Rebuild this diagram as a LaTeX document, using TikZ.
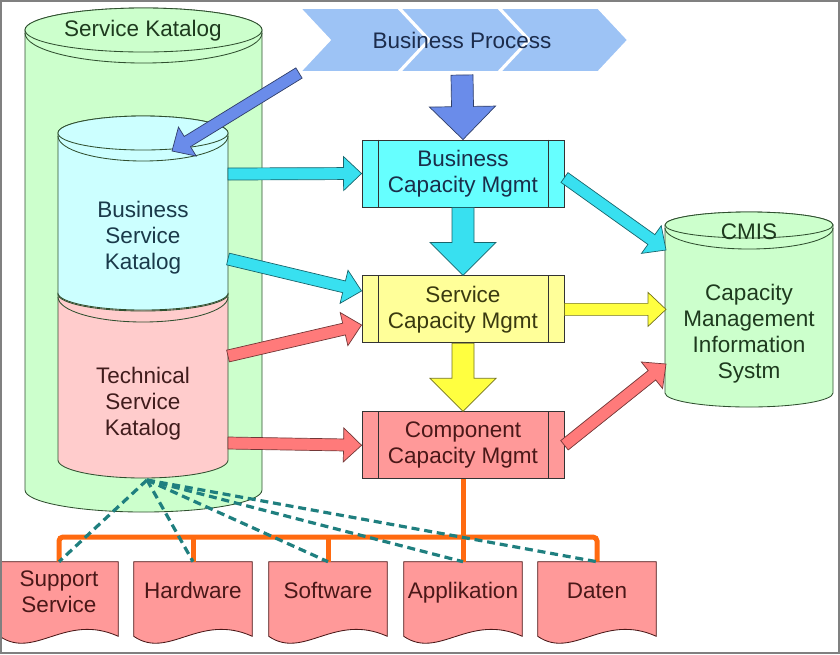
\documentclass[tikz,border=0pt]{standalone}
\usepackage{fontspec}
\setmainfont{Liberation Sans}
\usetikzlibrary{calc,positioning,backgrounds}

\definecolor{skfill}{HTML}{CCFFCC}
\definecolor{skline}{HTML}{2F4F2F}
\definecolor{sktext}{HTML}{1E3A1E}
\definecolor{bskfill}{HTML}{CCFFFF}
\definecolor{bsktext}{HTML}{1A3A4A}
\definecolor{tskfill}{HTML}{FFCCCC}
\definecolor{tsktext}{HTML}{401C1C}
\definecolor{chevfill}{HTML}{9DC3F5}
\definecolor{chevtext}{HTML}{1C2C4C}
\definecolor{bcmfill}{HTML}{66FFFF}
\definecolor{scmfill}{HTML}{FFFF99}
\definecolor{ccmfill}{HTML}{FF9999}
\definecolor{bcmtext}{HTML}{1A2E4A}
\definecolor{scmtext}{HTML}{3A3A10}
\definecolor{ccmtext}{HTML}{4A1818}
\definecolor{arrblue}{HTML}{6A8CEA}
\definecolor{arrcyan}{HTML}{38E0F0}
\definecolor{arryellow}{HTML}{FFFF40}
\definecolor{arrred}{HTML}{FF7A7A}
\definecolor{busorange}{HTML}{FF6A10}
\definecolor{linkteal}{HTML}{1F7F7F}

% sizes of the fat arrows
\def\fsw{1.5mm}\def\fhw{4.25mm}\def\fhl{4.5mm}
\tikzset{
  thinarrow/.code={\def\fsw{1.5mm}\def\fhw{4.25mm}\def\fhl{4.5mm}},
  bigarrow/.code={\def\fsw{2.75mm}\def\fhw{8.25mm}\def\fhl{8.25mm}},
}
\newcommand{\fatarrow}[4]{% size, colour, from, to
  \begin{scope}[#1]
    \coordinate (fa-h) at ($(#4)!\fhl!(#3)$);
    \filldraw[fill=#2, draw=#2!45!black, line width=0.5pt]
      ($(#3)!\fsw!90:(#4)$) -- ($(fa-h)!\fsw!90:(#4)$) -- ($(fa-h)!\fhw!90:(#4)$)
      -- (#4) -- ($(fa-h)!\fhw!-90:(#4)$) -- ($(fa-h)!\fsw!-90:(#4)$)
      -- ($(#3)!\fsw!-90:(#4)$) -- cycle;
  \end{scope}}
% x0, x1, y top, y bottom, top radius, bottom radius, style
\newcommand{\cylinder}[7]{%
  \filldraw[#7] (#1,-#3) -- (#1,-#4)
    arc[start angle=180, end angle=360, x radius={(#2-#1)/2}, y radius=#6]
    -- (#2,-#3) arc[start angle=0, end angle=180, x radius={(#2-#1)/2}, y radius=#5] -- cycle;
  \filldraw[#7] ({(#1+#2)/2},-#3) ellipse[x radius={(#2-#1)/2}, y radius=#5];
  \draw[#7, fill=none] (#1,-#3-3) arc[start angle=180, end angle=360, x radius={(#2-#1)/2}, y radius=#5+8];
}

\begin{document}
\begin{tikzpicture}[x=0.025cm, y=0.025cm,
  every node/.style={font=\fontsize{16}{18.5}\selectfont, align=center},
  cyl/.style={fill=#1, draw=skline, line width=0.6pt},
  chevron/.style={fill=chevfill, draw=white, line width=1.2pt},
  procbox/.style={draw=black!80, line width=0.6pt, minimum width=50.5mm, minimum height=16.75mm, inner sep=0pt},
  boxline/.style={draw=black!80, line width=0.6pt},
  doc/.style={minimum width=29.5mm, minimum height=15mm, inner sep=0pt, text=ccmtext},
  docone/.style={doc, text height=1.16em, text depth=0.21em},
  docshape/.style={fill=ccmfill, draw=ccmtext, line width=0.6pt},
  bus/.style={draw=busorange, line width=1.25mm},
  link/.style={draw=linkteal, line width=0.8mm, dash pattern=on 2mm off 1.2mm}]
\useasboundingbox (0,0) rectangle (840,-654);

% catalogues
\cylinder{25}{262}{30}{490}{22}{22}{cyl=skfill}
\cylinder{58}{228}{294}{460}{17}{18}{cyl=tskfill}
\cylinder{58}{228}{133}{293}{17}{17}{cyl=bskfill}
\cylinder{665}{833}{225}{393}{13}{14}{cyl=skfill}
\node (skl) [text=sktext] at (143,-31) {Service Katalog};
\node (bskl) [text=bsktext] at (143,-238) {Business\\Service\\Katalog};
\node (tskl) [text=tsktext] at (143,-404) {Technical\\Service\\Katalog};
\node (cmisl) [text=sktext] at (749,-232) {CMIS};
\node (cmist) [text=sktext] at (749,-334) {Capacity\\Management\\Information\\Systm};

% business process
\foreach \l in {300,400,500}
  \filldraw[chevron] (\l,-8) -- (\l+98,-8) -- (\l+128,-40) -- (\l+98,-72) -- (\l,-72) -- (\l+30,-40) -- cycle;
\node (bp) [minimum height=16mm, text=chevtext] at (462,-40) {Business Process};

% capacity management
\node (bcm) [procbox, fill=bcmfill, text=bcmtext] at (463,-173.5) {Business\\Capacity Mgmt};
\node (scm) [procbox, fill=scmfill, text=scmtext, below=17mm of bcm] {Service\\Capacity Mgmt};
\node (ccm) [procbox, fill=ccmfill, text=ccmtext, below=17mm of scm] {Component\\Capacity Mgmt};
\foreach \b in {bcm,scm,ccm}
  \draw[boxline] ([xshift=4.25mm]\b.north west) -- ([xshift=4.25mm]\b.south west)
                 ([xshift=-4.1mm]\b.north east) -- ([xshift=-4.1mm]\b.south east);

% components
\node (sup) [doc] at (59,-592) {Support\\Service};
\node (hw) [docone] at (193,-592) {Hardware};
\node (sw) [docone] at (328,-592) {Software};
\node (app) [docone] at (463,-592) {Applikation};
\node (dat) [docone] at (597,-592) {Daten};
\begin{scope}[on background layer]
\foreach \n in {sup,hw,sw,app,dat}
  \filldraw[docshape] (\n.north west) -- ([yshift=-3.5mm]\n.south west)
    .. controls +(8.75mm,-6mm) and +(-13.25mm,6mm) .. ([yshift=-3.5mm]\n.south east)
    -- (\n.north east) -- cycle;
\end{scope}

% arrow ends
\coordinate (hub) at (147,-480);
\coordinate (bp-s) at (462,-75);
\coordinate (bp-w) at (299,-73);
\coordinate (bsk-top) at (172,-151);
\coordinate (bsk-a) at (228,-174);
\coordinate (bsk-b) at (228,-259);
\coordinate (tsk-a) at (228,-356);
\coordinate (tsk-b) at (228,-443);
\coordinate (cmis-a) at (666,-250);
\coordinate (cmis-c) at (666,-364);
\coordinate (cmis-b) at (scm.east -| cmis-a);
\coordinate (scm-a) at ($(scm.west)+(0,4.6mm)$);
\coordinate (scm-b) at ($(scm.west)+(0,-3.9mm)$);
\coordinate (bcm-e) at ($(bcm.east)+(0,-1mm)$);
\coordinate (bus) at (0,-537);

\fatarrow{bigarrow}{arrblue}{bp-s}{bcm.north}
\fatarrow{bigarrow}{arrcyan}{bcm.south}{scm.north}
\fatarrow{bigarrow}{arryellow}{scm.south}{ccm.north}
\fatarrow{thinarrow}{arrblue}{bp-w}{bsk-top}
\fatarrow{thinarrow}{arrcyan}{bsk-a}{bcm.west}
\fatarrow{thinarrow}{arrcyan}{bsk-b}{scm-a}
\fatarrow{thinarrow}{arrred}{tsk-a}{scm-b}
\fatarrow{thinarrow}{arrred}{tsk-b}{ccm.west}
\fatarrow{thinarrow}{arrcyan}{bcm-e}{cmis-a}
\fatarrow{thinarrow}{arryellow}{scm.east}{cmis-b}
\fatarrow{thinarrow}{arrred}{ccm.east}{cmis-c}

% component bus
\draw[bus] (ccm.south) -- (ccm.south |- bus);
\draw[bus, rounded corners=1mm] (sup.north) -- (sup.north |- bus) -- (dat.north |- bus) -- (dat.north);
\foreach \n in {hw,sw,app}
  \draw[bus] (\n.north |- bus) -- (\n.north);
\foreach \n in {sup,hw,sw,app,dat}
  \draw[link] (hub) -- (\n.north);

\draw[gray, line width=0.4mm] (1,-1) rectangle (839,-653);
\end{tikzpicture}
\end{document}
